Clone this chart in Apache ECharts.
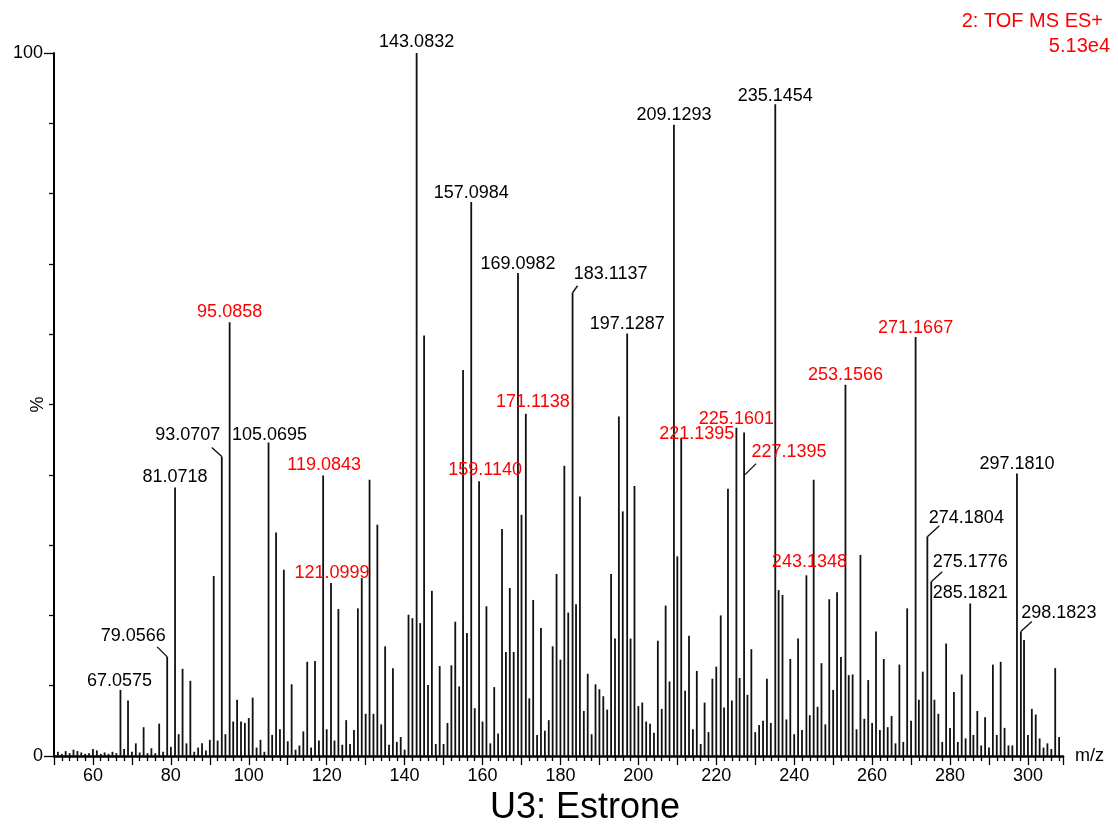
<!DOCTYPE html>
<html>
<head>
<meta charset="utf-8">
<script src="https://cdn.jsdelivr.net/npm/echarts@6/dist/echarts.min.js"></script>
<style>
html,body{margin:0;padding:0;background:#fff;}
#chart{width:1118px;height:825px;}
</style>
</head>
<body>
<div id="chart"></div>
<script>
// ---- DATA ----
const startMz = 50; // first integer m/z of the intensity list
// relative intensity (%) for nominal m/z 50 .. 308
const intensity50 = [0.4, 0.6, 0.3, 0.7, 0.4, 0.9, 0.7, 0.5, 0.3, 0.4];
const intensity60 = [1.0, 0.8, 0.3, 0.5, 0.3, 0.6, 0.4, 9.4, 1.0, 7.9];
const intensity70 = [0.6, 1.8, 0.5, 4.1, 0.4, 1.1, 0.4, 4.6, 0.6, 14.1];
const intensity80 = [1.3, 38.2, 3.1, 12.4, 1.8, 10.7, 0.6, 1.2, 1.8, 0.8];
const intensity90 = [2.3, 25.6, 2.2, 42.6, 3.1, 61.7, 4.9, 8.0, 4.9, 4.7];
const intensity100 = [5.4, 8.3, 1.2, 2.3, 0.6, 44.6, 3.0, 31.8, 3.8, 26.5];
const intensity110 = [2.1, 10.2, 0.9, 1.5, 3.5, 13.4, 1.2, 13.5, 2.2, 39.9];
const intensity120 = [3.8, 24.6, 2.2, 20.9, 1.6, 5.1, 1.7, 3.7, 21.0, 25.3];
const intensity130 = [6.0, 39.3, 6.0, 32.9, 4.5, 15.6, 1.6, 12.5, 2.0, 2.7];
const intensity140 = [0.9, 20.1, 19.6, 100, 18.9, 59.8, 10.1, 23.5, 1.7, 12.8];
const intensity150 = [1.7, 4.7, 12.9, 19.1, 9.9, 54.9, 17.5, 78.8, 6.8, 39.1];
const intensity160 = [4.9, 21.3, 1.8, 9.8, 3.2, 32.3, 14.8, 23.9, 14.8, 68.7];
const intensity170 = [34.3, 48.7, 8.2, 22.2, 3.0, 18.2, 3.6, 5.1, 15.6, 25.9];
const intensity180 = [13.7, 41.3, 20.4, 65.9, 21.6, 36.9, 6.4, 11.7, 3.1, 10.2];
const intensity190 = [9.5, 8.5, 6.6, 25.9, 16.7, 48.3, 34.8, 60.1, 16.7, 38.4];
const intensity200 = [7.1, 7.6, 4.9, 4.6, 3.3, 16.4, 6.7, 21.4, 10.6, 89.8];
const intensity210 = [28.4, 45.2, 9.3, 17.1, 3.8, 12.1, 1.7, 7.6, 3.4, 11.0];
const intensity220 = [12.7, 20.0, 6.9, 38.0, 7.9, 46.7, 11.1, 46.0, 8.7, 15.2];
const intensity230 = [3.4, 4.4, 5.0, 11.0, 4.7, 92.7, 23.6, 22.9, 5.2, 13.8];
const intensity240 = [3.1, 16.7, 3.7, 25.7, 5.8, 39.3, 7.0, 13.2, 4.5, 22.3];
const intensity250 = [9.4, 23.3, 14.1, 52.8, 11.5, 11.6, 3.8, 28.6, 5.3, 10.8];
const intensity260 = [4.7, 17.7, 3.7, 13.8, 4.1, 5.7, 1.8, 13.0, 2.0, 21.0];
const intensity270 = [5.0, 59.6, 8.0, 12.0, 31.2, 24.8, 8.0, 6.0, 2.0, 16.0];
const intensity280 = [4.0, 9.1, 2.0, 11.6, 2.5, 21.7, 3.0, 6.4, 1.5, 5.5];
const intensity290 = [1.2, 13.0, 3.0, 13.4, 4.0, 1.5, 1.5, 40.2, 17.7, 16.5];
const intensity300 = [3.0, 6.7, 5.9, 2.5, 1.2, 1.8, 1.0, 12.5, 2.7];

// accurate masses of the annotated peaks
const labelMasses = ['67.0575','79.0566','81.0718','93.0707','95.0858','105.0695',
  '119.0843','121.0999','143.0832','157.0984','159.1140','169.0982','171.1138',
  '183.1137','197.1287','209.1293','221.1395','225.1601','227.1395','235.1454',
  '243.1348','253.1566','271.1667','274.1804','275.1776','285.1821','297.1810','298.1823'];
// annotations drawn in red
const redLabels = ['95.0858','119.0843','121.0999','159.1140','171.1138','221.1395',
  '225.1601','227.1395','243.1348','253.1566','271.1667'];

const xTicks = {min: 50, max: 309, step: 10, labelEvery: 20};
const yTicks = {min: 0, max: 100};
const titleText = 'U3: Estrone';
const infoLines = ['2: TOF MS ES+', '5.13e4'];

// ---- LAYOUT (pixel offsets of annotation text relative to the peak top) ----
// t: text centre offset; lead: leader line [x1, y1, x2, y2] offsets
const labelLayout = {
  '67.0575': {t: [-1, -9]},
  '79.0566': {t: [-34, -21], lead: [0, 0, -10, -10]},
  '81.0718': {t: [0, -10]},
  '93.0707': {t: [-34, -21], lead: [0, 0, -10, -9]},
  '95.0858': {t: [0, -10]},
  '105.0695': {t: [1, -7]},
  '119.0843': {t: [1, -10]},
  '121.0999': {t: [1, -10]},
  '143.0832': {t: [0, -11]},
  '157.0984': {t: [0, -9]},
  '159.1140': {t: [6, -11]},
  '169.0982': {t: [0, -9]},
  '171.1138': {t: [7, -12]},
  '183.1137': {t: [38, -19], lead: [0, 0, 5, -7]},
  '197.1287': {t: [0, -9]},
  '209.1293': {t: [0, -10]},
  '221.1395': {t: [-24, -181]},
  '225.1601': {t: [0, -9]},
  '227.1395': {t: [45, 19], lead: [1, 42, 12, 31]},
  '235.1454': {t: [0, -8]},
  '243.1348': {t: [3, -13]},
  '253.1566': {t: [0, -10]},
  '271.1667': {t: [0, -9]},
  '274.1804': {t: [39, -19], lead: [0, 0, 12, -11]},
  '275.1776': {t: [39, -20], lead: [0, 0, 11, -10]},
  '285.1821': {t: [0, -10]},
  '297.1810': {t: [0, -9]},
  '298.1823': {t: [38, -19], lead: [0, 0, 11, -10]}
};

// ---- BUILD ----
const allIntensity = [].concat(intensity50, intensity60, intensity70, intensity80, intensity90,
  intensity100, intensity110, intensity120, intensity130, intensity140, intensity150,
  intensity160, intensity170, intensity180, intensity190, intensity200, intensity210,
  intensity220, intensity230, intensity240, intensity250, intensity260, intensity270,
  intensity280, intensity290, intensity300);

const exactByNominal = {};
labelMasses.forEach(m => { exactByNominal[Math.round(parseFloat(m))] = parseFloat(m); });

const stickData = allIntensity.map((v, i) => {
  const nominal = startMz + i;
  const x = exactByNominal[nominal] !== undefined ? exactByNominal[nominal] : nominal;
  return [x, v];
});
const labelData = labelMasses.map(m => {
  const mzv = parseFloat(m);
  return [mzv, allIntensity[Math.round(mzv) - startMz], m];
});

const FONT = 'Liberation Sans, Arial, sans-serif';
const chart = echarts.init(document.getElementById('chart'), null, {renderer: 'canvas'});

chart.setOption({
  animation: false,
  backgroundColor: '#fff',
  grid: {left: 54, right: 55, top: 53, bottom: 69, containLabel: false, outerBoundsMode: 'none'},
  xAxis: {
    type: 'value', min: xTicks.min, max: xTicks.max, interval: xTicks.step,
    name: 'm/z', nameLocation: 'end', nameGap: 12, nameMoveOverlap: false,
    nameTextStyle: {fontSize: 18, fontFamily: FONT, color: '#000', verticalAlign: 'middle'},
    axisLine: {show: true, lineStyle: {color: '#000', width: 2.5}},
    axisTick: {show: true, length: 9, lineStyle: {color: '#000', width: 1.3}},
    minorTick: {show: true, splitNumber: 5, length: 5, lineStyle: {color: '#000', width: 1.3}},
    splitLine: {show: false},
    axisLabel: {
      fontSize: 18, fontFamily: FONT, color: '#000', margin: 11,
      showMinLabel: false, showMaxLabel: false, hideOverlap: false,
      formatter: v => (v % xTicks.labelEvery === 0 ? String(v) : '')
    }
  },
  yAxis: {
    type: 'value', min: yTicks.min, max: yTicks.max, interval: 100,
    name: '%', nameLocation: 'middle', nameGap: 7, nameRotate: 90, nameMoveOverlap: false,
    nameTextStyle: {fontSize: 18, fontFamily: FONT, color: '#000'},
    axisLine: {show: true, lineStyle: {color: '#000', width: 2}},
    axisTick: {show: true, length: 10, lineStyle: {color: '#000', width: 1.3}},
    minorTick: {show: true, splitNumber: 10, length: 5, lineStyle: {color: '#000', width: 1.3}},
    splitLine: {show: false},
    axisLabel: {fontSize: 18, fontFamily: FONT, color: '#000', margin: 11,
      formatter: v => (v === 0 || v === 100 ? String(v) : '')}
  },
  graphic: [
    {type: 'text', x: 585, y: 808, z: 10,
      style: {text: titleText, fontSize: 36, fontFamily: FONT, fill: '#000',
        align: 'center', verticalAlign: 'middle'}},
    {type: 'text', x: 1103, y: 21,
      style: {text: infoLines[0], fontSize: 20, fontFamily: FONT, fill: '#ff0000',
        align: 'right', verticalAlign: 'middle'}},
    {type: 'text', x: 1110, y: 46,
      style: {text: infoLines[1], fontSize: 20, fontFamily: FONT, fill: '#ff0000',
        align: 'right', verticalAlign: 'middle'}}
  ],
  series: [
    {
      type: 'custom', name: 'spectrum', data: stickData, clip: false,
      encode: {x: 0, y: 1},
      renderItem: (params, api) => {
        const p0 = api.coord([api.value(0), 0]);
        const p1 = api.coord([api.value(0), api.value(1)]);
        return {type: 'line', shape: {x1: p0[0], y1: p0[1], x2: p0[0], y2: p1[1]},
          style: {stroke: '#111', lineWidth: 1.8}};
      }
    },
    {
      type: 'custom', name: 'annotations', data: labelData, clip: false, z: 5,
      encode: {x: 0, y: 1},
      renderItem: (params, api) => {
        const key = labelData[params.dataIndex][2];
        const lay = labelLayout[key] || {t: [0, -10]};
        const top = api.coord([api.value(0), api.value(1)]);
        const bx = top[0], by = top[1];
        const color = redLabels.indexOf(key) >= 0 ? '#ff0000' : '#000';
        const children = [{
          type: 'text', x: bx + lay.t[0], y: by + lay.t[1],
          style: {text: key, fontSize: 18, fontFamily: FONT, fill: color,
            align: 'center', verticalAlign: 'middle'}
        }];
        if (lay.lead) {
          children.push({type: 'line',
            shape: {x1: bx + lay.lead[0], y1: by + lay.lead[1], x2: bx + lay.lead[2], y2: by + lay.lead[3]},
            style: {stroke: '#111', lineWidth: 1.4}});
        }
        return {type: 'group', children: children};
      }
    }
  ]
});
</script>
</body>
</html>
